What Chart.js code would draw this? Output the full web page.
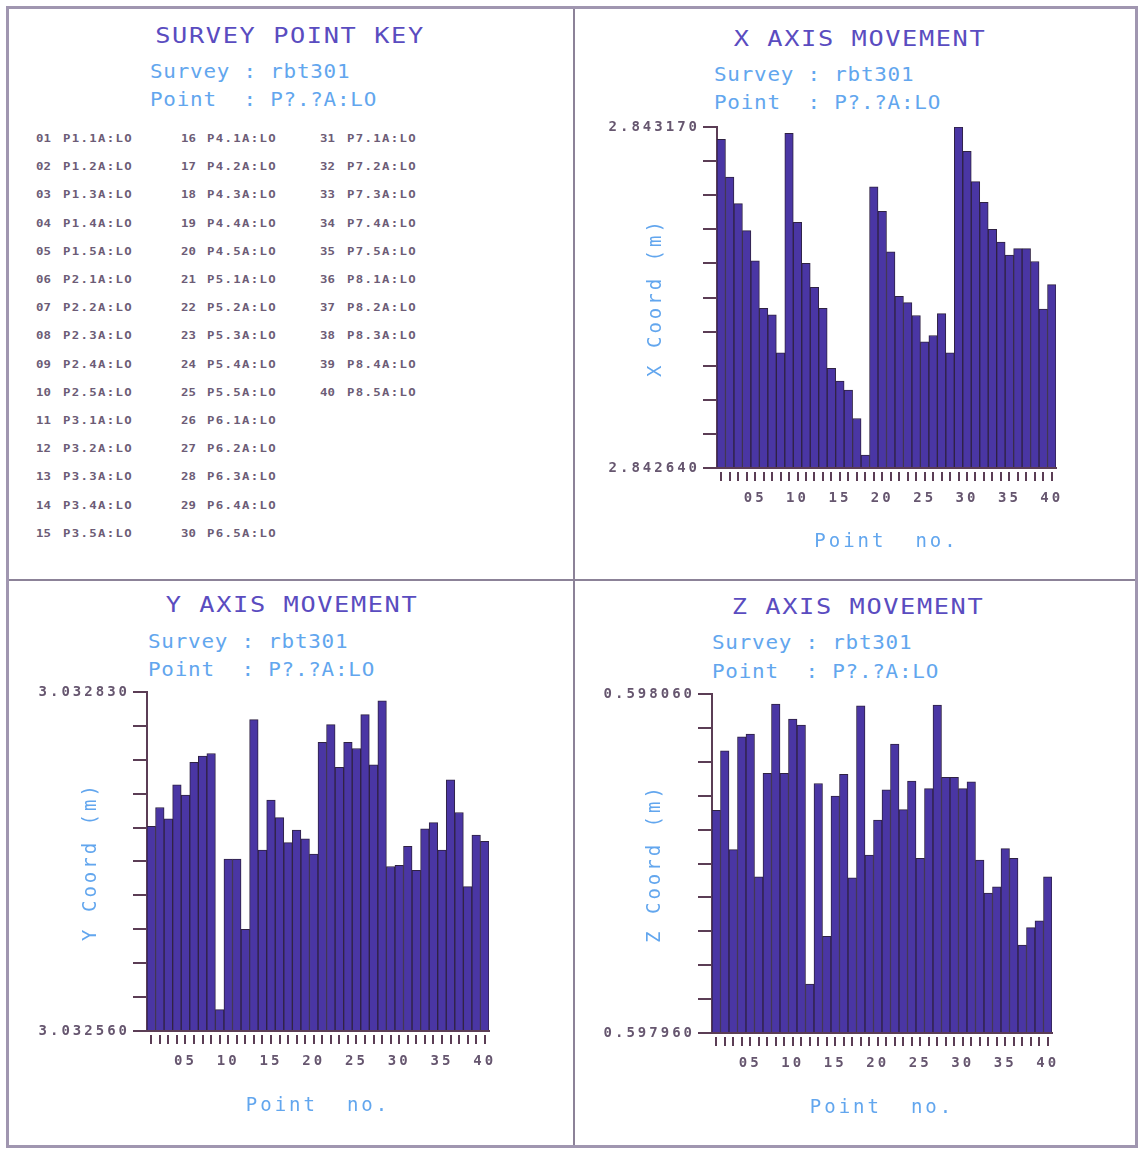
<!DOCTYPE html>
<html>
<head>
<meta charset="utf-8">
<title>Survey rbt301 - point movement</title>
<script src="https://cdn.jsdelivr.net/npm/chart.js@4.4.1/dist/chart.umd.min.js"></script>
<style>
  html, body { margin: 0; padding: 0; background: #ffffff; }
  body { width: 1141px; height: 1150px; position: relative; overflow: hidden;
         font-family: "DejaVu Sans Mono", "Liberation Mono", monospace; }
  .frame { position: absolute; left: 6px; top: 6px; width: 1126px; height: 1136px;
           border: 3px solid #a096b0; }
  .vline { position: absolute; left: 573px; top: 9px; width: 2px; height: 1136px; background: #8c8298; }
  .hline { position: absolute; left: 9px; top: 579px; width: 1126px; height: 2px; background: #8c8298; }
  .title { position: absolute; font-size: 22px; line-height: 22px; letter-spacing: 1.4px;
           color: #5a4cc0; white-space: pre; transform: translateX(-50%) scaleX(1.15); }
  .sub { position: absolute; font-size: 19px; line-height: 19px; letter-spacing: 0.7px;
         color: #62a6ee; white-space: pre; transform-origin: 0 0; transform: scaleX(1.1); }
  .key { position: absolute; font-size: 11px; line-height: 11px; font-weight: bold;
         color: #6c5c76; white-space: pre; transform-origin: 0 0; transform: scaleX(1.12); }
  .key.lbl { letter-spacing: 1.2px; }
  .plot { position: absolute; }
</style>
</head>
<body>
<div class="frame"></div>
<div class="vline"></div>
<div class="hline"></div>

<!-- panel headings -->
<div class="title" style="left:290px; top:25px;">SURVEY POINT KEY</div>
<div class="sub" style="left:150px; top:62px;">Survey : rbt301</div>
<div class="sub" style="left:150px; top:90px;">Point  : P?.?A:LO</div>

<div class="title" style="left:860px; top:28px;">X AXIS MOVEMENT</div>
<div class="sub" style="left:714px; top:65px;">Survey : rbt301</div>
<div class="sub" style="left:714px; top:93px;">Point  : P?.?A:LO</div>

<div class="title" style="left:292px; top:594px;">Y AXIS MOVEMENT</div>
<div class="sub" style="left:148px; top:632px;">Survey : rbt301</div>
<div class="sub" style="left:148px; top:660px;">Point  : P?.?A:LO</div>

<div class="title" style="left:858px; top:596px;">Z AXIS MOVEMENT</div>
<div class="sub" style="left:712px; top:633px;">Survey : rbt301</div>
<div class="sub" style="left:712px; top:662px;">Point  : P?.?A:LO</div>

<div id="keyList"></div>

<div class="plot" style="left:590px; top:112px;"><canvas id="xChart" width="485" height="455"></canvas></div>
<div class="plot" style="left:20px; top:678px;"><canvas id="yChart" width="490" height="455"></canvas></div>
<div class="plot" style="left:585px; top:680px;"><canvas id="zChart" width="485" height="455"></canvas></div>

<script>
// ---- survey points ----
const pointNumbers = [1, 2, 3, 4, 5, 6, 7, 8, 9, 10, 11, 12, 13, 14, 15, 16, 17, 18, 19, 20,
                      21, 22, 23, 24, 25, 26, 27, 28, 29, 30, 31, 32, 33, 34, 35, 36, 37, 38, 39, 40];
const pointKeys = [
  'P1.1A:LO', 'P1.2A:LO', 'P1.3A:LO', 'P1.4A:LO', 'P1.5A:LO',
  'P2.1A:LO', 'P2.2A:LO', 'P2.3A:LO', 'P2.4A:LO', 'P2.5A:LO',
  'P3.1A:LO', 'P3.2A:LO', 'P3.3A:LO', 'P3.4A:LO', 'P3.5A:LO',
  'P4.1A:LO', 'P4.2A:LO', 'P4.3A:LO', 'P4.4A:LO', 'P4.5A:LO',
  'P5.1A:LO', 'P5.2A:LO', 'P5.3A:LO', 'P5.4A:LO', 'P5.5A:LO',
  'P6.1A:LO', 'P6.2A:LO', 'P6.3A:LO', 'P6.4A:LO', 'P6.5A:LO',
  'P7.1A:LO', 'P7.2A:LO', 'P7.3A:LO', 'P7.4A:LO', 'P7.5A:LO',
  'P8.1A:LO', 'P8.2A:LO', 'P8.3A:LO', 'P8.4A:LO', 'P8.5A:LO'
];
// point numbers that carry a label under the x axis
const labelledPoints = [5, 10, 15, 20, 25, 30, 35, 40];

// ---- coordinates (m) ----
const xCoord = [2.843151, 2.843092, 2.843051, 2.843009, 2.842962, 2.842888, 2.842878, 2.842819,
                2.843160, 2.843022, 2.842958, 2.842921, 2.842888, 2.842795, 2.842775, 2.842761,
                2.842717, 2.842660, 2.843077, 2.843039, 2.842976, 2.842907, 2.842897, 2.842877,
                2.842836, 2.842846, 2.842880, 2.842819, 2.843170, 2.843132, 2.843085, 2.843053,
                2.843011, 2.842991, 2.842971, 2.842981, 2.842981, 2.842961, 2.842887, 2.842925];
const yCoord = [3.032723, 3.032738, 3.032729, 3.032756, 3.032748, 3.032774, 3.032779, 3.032781,
                3.032577, 3.032697, 3.032697, 3.032641, 3.032808, 3.032704, 3.032744, 3.032730,
                3.032710, 3.032720, 3.032713, 3.032701, 3.032790, 3.032804, 3.032770, 3.032790,
                3.032785, 3.032812, 3.032772, 3.032823, 3.032691, 3.032692, 3.032707, 3.032688,
                3.032721, 3.032726, 3.032704, 3.032760, 3.032734, 3.032675, 3.032716, 3.032711];
const zCoord = [0.5980257, 0.5980432, 0.5980141, 0.5980474, 0.5980482, 0.5980061, 0.5980366, 0.5980570,
                0.5980366, 0.5980526, 0.5980508, 0.5979744, 0.5980336, 0.5979885, 0.5980299, 0.5980363,
                0.5980058, 0.5980565, 0.5980125, 0.5980228, 0.5980317, 0.5980452, 0.5980259, 0.5980343,
                0.5980115, 0.5980321, 0.5980567, 0.5980354, 0.5980354, 0.5980321, 0.5980341, 0.5980110,
                0.5980013, 0.5980031, 0.5980144, 0.5980115, 0.5979859, 0.5979911, 0.5979931, 0.5980061];

// axis limits [bottom, top]
const xRange = [2.842640, 2.843170];
const yRange = [3.032560, 3.032830];
const zRange = [0.597960, 0.598060];

// ---- key listing: three columns of 15 ----
(function buildKey() {
  const host = document.getElementById('keyList');
  const columns = [{ num: 36, lbl: 63 }, { num: 181, lbl: 207 }, { num: 320, lbl: 347 }];
  const rowTop = 133, rowStep = 28.2;
  pointNumbers.forEach((n, i) => {
    const col = columns[Math.floor(i / 15)];
    const top = rowTop + (i % 15) * rowStep;
    const num = document.createElement('div');
    num.className = 'key';
    num.style.left = col.num + 'px';
    num.style.top = top + 'px';
    num.textContent = String(n).padStart(2, '0');
    const lbl = document.createElement('div');
    lbl.className = 'key lbl';
    lbl.style.left = col.lbl + 'px';
    lbl.style.top = top + 'px';
    lbl.textContent = pointKeys[i];
    host.appendChild(num);
    host.appendChild(lbl);
  });
})();

// ---- charts ----
const BAR_FILL = '#4a36a4';
const BAR_EDGE = '#2f2243';
const AXIS = '#5b3d55';
const TICK_TEXT = '#66566f';
const AXIS_TITLE = '#62a6ee';
const FONT = '"DejaVu Sans Mono", "Liberation Mono", monospace';

// plotter-style wide lettering for every text drawn on the canvas
const spacedLettering = {
  id: 'spacedLettering',
  beforeDraw(chart) {
    if ('letterSpacing' in chart.ctx) chart.ctx.letterSpacing = '3px';
  }
};

function movementChart(canvasId, values, range, axisTitle, box) {
  const [lo, hi] = range;
  return new Chart(document.getElementById(canvasId), {
    type: 'bar',
    data: {
      labels: pointNumbers,
      datasets: [{
        data: values,
        base: lo,
        backgroundColor: BAR_FILL,
        borderColor: BAR_EDGE,
        borderWidth: 1,
        borderSkipped: 'start',
        barPercentage: 1,
        categoryPercentage: 1
      }]
    },
    options: {
      responsive: false,
      animation: false,
      devicePixelRatio: 1,
      events: [],
      layout: { padding: { top: box.padTop, right: box.padRight, left: 0, bottom: 0 } },
      plugins: { legend: { display: false }, tooltip: { enabled: false } },
      scales: {
        x: {
          offset: true,
          grid: {
            offset: false,
            drawOnChartArea: false,
            drawTicks: true,
            tickLength: 13,
            color: AXIS,
            lineWidth: 2,
            tickBorderDash: [0, 3, 10, 60]
          },
          border: { display: true, color: AXIS, width: 2 },
          ticks: {
            autoSkip: false,
            maxRotation: 0,
            minRotation: 0,
            padding: 9,
            color: TICK_TEXT,
            font: { family: FONT, size: 14, weight: 'bold' },
            callback: (value, index) =>
              labelledPoints.includes(pointNumbers[index]) ? String(pointNumbers[index]).padStart(2, '0') : ''
          },
          title: {
            display: true,
            text: 'Point  no.',
            color: AXIS_TITLE,
            font: { family: FONT, size: 19 },
            padding: { top: 0, bottom: box.xTitlePad }
          },
          afterFit: (scale) => { scale.height = box.xHeight; }
        },
        y: {
          min: lo,
          max: hi,
          grid: {
            drawOnChartArea: false,
            drawTicks: true,
            tickLength: 14,
            color: AXIS,
            lineWidth: 2
          },
          border: { display: true, color: AXIS, width: 2 },
          ticks: {
            padding: 3,
            color: TICK_TEXT,
            font: { family: FONT, size: 14, weight: 'bold' },
            callback: (value, index, ticks) =>
              (index === 0 || index === ticks.length - 1) ? value.toFixed(6) : ''
          },
          afterBuildTicks: (scale) => {
            // ten equal divisions between the two labelled limits
            const ticks = [];
            for (let i = 0; i <= 10; i++) ticks.push({ value: lo + (hi - lo) * i / 10 });
            scale.ticks = ticks;
          },
          title: {
            display: true,
            text: axisTitle,
            color: AXIS_TITLE,
            font: { family: FONT, size: 19 },
            padding: { top: box.yTitlePad, bottom: 0 }
          },
          afterFit: (scale) => { scale.width = box.yWidth; }
        }
      }
    },
    plugins: [spacedLettering]
  });
}

movementChart('xChart', xCoord, xRange, 'X Coord (m)',
  { padTop: 15, padRight: 19, yWidth: 127, xHeight: 99, yTitlePad: 55, xTitlePad: 14 });
movementChart('yChart', yCoord, yRange, 'Y Coord (m)',
  { padTop: 14, padRight: 21, yWidth: 127, xHeight: 102, yTitlePad: 60, xTitlePad: 16 });
movementChart('zChart', zCoord, zRange, 'Z Coord (m)',
  { padTop: 14, padRight: 18, yWidth: 127, xHeight: 102, yTitlePad: 59, xTitlePad: 16 });
</script>
</body>
</html>
